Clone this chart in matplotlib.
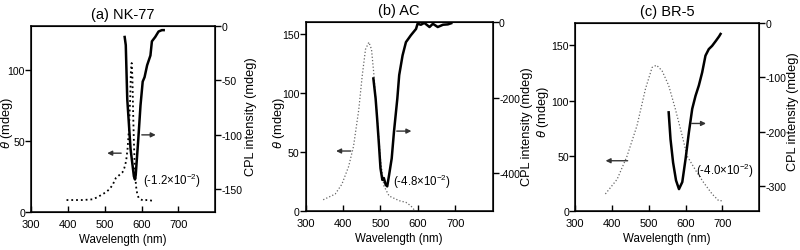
import matplotlib.pyplot as plt
import numpy as np

plt.rcParams['font.family'] = ['Liberation Sans', 'DejaVu Sans']
plt.rcParams['font.size'] = 8.3
plt.rcParams['mathtext.fontset'] = 'custom'
plt.rcParams['mathtext.rm'] = 'Liberation Sans'
plt.rcParams['mathtext.it'] = 'Liberation Sans:italic'
plt.rcParams['axes.unicode_minus'] = False

# (a) NK-77
a_abs_wl = [396, 420, 440, 467, 480, 490, 503, 512, 521, 530, 539, 548, 553, 558, 562, 566,
            569, 571, 573, 575, 577, 579, 581, 583, 585, 588, 592, 597, 606, 613, 620, 628]
a_abs = [8.5, 8.5, 8.5, 9, 10.5, 12, 14, 16, 19, 24, 26, 28, 31, 36, 45, 60,
         80, 100, 105, 95, 70, 50, 35, 25, 18, 13, 10, 9, 8, 8.5, 8.5, 8]
a_cpl_wl = [554, 557, 561, 570, 579, 582, 584, 591, 597, 603, 608, 615, 624, 628, 637, 646, 655, 660]
a_cpl = [-10, -17.5, -67, -113, -138, -141, -137, -104, -73, -51, -47, -36, -27, -14, -10, -5, -3.7, -3.7]

# (b) AC
b_abs_wl = [347, 379, 397, 415, 428, 442, 451, 460, 469, 476, 482, 491, 500, 509, 523, 550, 568, 581, 590]
b_abs = [9.8, 14.6, 23, 38, 55, 86, 114, 137, 143, 137, 117, 80, 44, 21.6, 13, 9, 7.6, 4.7, 1.3]
b_cpl_wl = [481, 487, 491, 496, 500, 505, 509, 514, 518, 523, 530, 536, 545, 550, 559, 568,
            581, 595, 599, 608, 617, 631, 640, 653, 667, 680, 689]
b_cpl = [-149, -202, -254, -325, -386, -417, -412, -430, -434, -404, -360, -290, -202, -140, -88, -53,
         -35, -18, -4.5, -7, -2, -13, -4.5, -13, -7, -6, -3]

# (c) BR-5
c_abs_wl = [382, 414, 441, 468, 491, 509, 521, 536, 554, 572, 591, 604, 631, 649, 672, 690, 700]
c_abs = [15.7, 29, 50, 77.5, 110.7, 130, 132, 127, 113.7, 92.6, 68, 50, 35, 26, 15.7, 9.6, 9.6]
c_cpl_wl = [554, 559, 566, 574, 582, 591, 600, 609, 618, 627, 636, 645, 654, 663, 672, 682, 691, 695]
c_cpl = [-164.5, -214, -257, -290, -306, -293, -250, -201, -158, -134, -115, -91, -60, -48, -42, -33, -24.5, -20]

titles = ['(a) NK-77', '(b) AC', '(c) BR-5']
g_values = [r'(-1.2$\times$10$^{-2}$)', r'(-4.8$\times$10$^{-2}$)', r'(-4.0$\times$10$^{-2}$)']

panels = [
    dict(rect=[0.039, 0.151, 0.230, 0.741], abs_wl=a_abs_wl, abs_=a_abs, cpl_wl=a_cpl_wl, cpl=a_cpl,
         ylim=(0, 131), yticks=[0, 50, 100], y2lim=(-171, 0), y2ticks=[0, -50, -100, -150],
         dot_color='black', dot_lw=1.3, ylab=(-0.09, 0.487), y2lab=(1.163, 0.52),
         larrow=((552, 41.5), (499, 41.5)), rarrow=((593, -100), (646, -100)), txt=(604, -141)),
    dict(rect=[0.382, 0.154, 0.234, 0.754], abs_wl=b_abs_wl, abs_=b_abs, cpl_wl=b_cpl_wl, cpl=b_cpl,
         ylim=(0, 160), yticks=[0, 50, 100, 150], y2lim=(-500, 0), y2ticks=[0, -200, -400],
         dot_color='#666666', dot_lw=0.9, ylab=(-0.101, 0.47), y2lab=(1.15, 0.452),
         larrow=((428, 51), (374, 51)), rarrow=((536, -288), (590, -288)), txt=(534, -419)),
    dict(rect=[0.719, 0.154, 0.230, 0.750], abs_wl=c_abs_wl, abs_=c_abs, cpl_wl=c_cpl_wl, cpl=c_cpl,
         ylim=(0, 170), yticks=[0, 50, 100, 150], y2lim=(-347, 0), y2ticks=[0, -100, -200, -300],
         dot_color='#666666', dot_lw=0.9, ylab=(-0.13, 0.534), y2lab=(1.15, 0.535),
         larrow=((450, 45.7), (375, 45.7)), rarrow=((609, -185), (663, -185)), txt=(628, -271)),
]

fig = plt.figure(figsize=(8, 2.51), dpi=100)

for p, title, g in zip(panels, titles, g_values):
    ax = fig.add_axes(p['rect'])
    ax.plot(p['abs_wl'], p['abs_'], linestyle=':', color=p['dot_color'], lw=p['dot_lw'])
    ax.set_xlim(300, 800)
    ax.set_xticks([300, 400, 500, 600, 700])
    ax.set_ylim(*p['ylim'])
    ax.set_yticks(p['yticks'])
    ax.tick_params(axis='x', direction='in', length=4, width=1, pad=5, labelsize=8)
    ax.tick_params(axis='y', direction='out', length=4, width=1, pad=0.5, labelsize=7.6)
    ax.set_xlabel('Wavelength (nm)', labelpad=3)
    ax.set_ylabel(r'$\it{\theta}$ (mdeg)', fontsize=9.2)
    ax.yaxis.set_label_coords(*p['ylab'])
    ax.set_title(title, fontsize=10.5, pad=6)
    for s in ax.spines.values():
        s.set_linewidth(1.1)

    ax2 = ax.twinx()
    ax2.plot(p['cpl_wl'], p['cpl'], color='black', lw=1.8)
    ax2.set_ylim(*p['y2lim'])
    ax2.set_yticks(p['y2ticks'])
    ax2.tick_params(axis='y', direction='out', length=4, width=1, pad=0.5, labelsize=7.6)
    ax2.set_ylabel('CPL intensity (mdeg)', fontsize=9.2)
    ax2.yaxis.set_label_coords(*p['y2lab'])

    (ls, le) = p['larrow']
    ax.annotate('', xy=le, xytext=ls,
                arrowprops=dict(arrowstyle='-|>', color='#333333', lw=1, mutation_scale=7))
    (rs, re_) = p['rarrow']
    ax2.annotate('', xy=re_, xytext=rs,
                 arrowprops=dict(arrowstyle='-|>', color='#333333', lw=1, mutation_scale=7))
    ax2.text(p['txt'][0], p['txt'][1], g, fontsize=8.3, va='center', ha='left')

fig.savefig('out.png', dpi=100)
